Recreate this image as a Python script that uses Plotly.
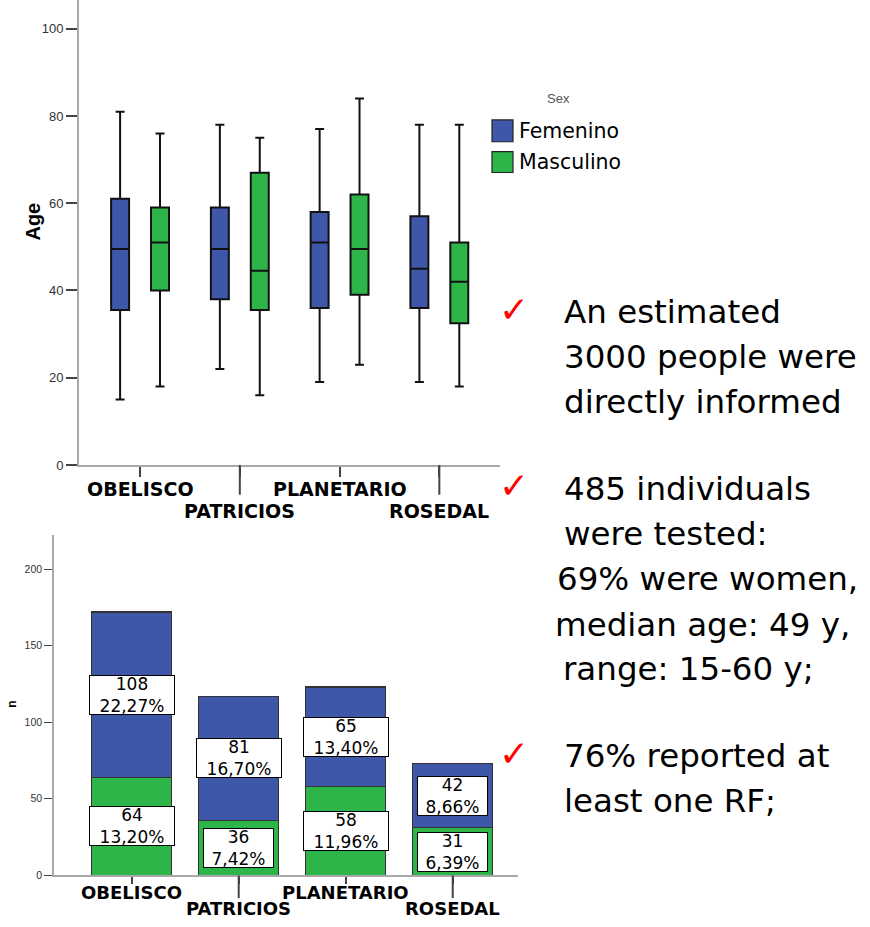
import plotly.graph_objects as go

# ---------------- data ----------------
sites = ["OBELISCO", "PATRICIOS", "PLANETARIO", "ROSEDAL"]

# Age box plot statistics
fem_low = [15, 22, 19, 19]
fem_q1 = [35.5, 38, 36, 36]
fem_med = [49.5, 49.5, 51, 45]
fem_q3 = [61, 59, 58, 57]
fem_high = [81, 78, 77, 78]

mas_low = [18, 16, 23, 18]
mas_q1 = [40, 35.5, 39, 32.5]
mas_med = [51, 44.5, 49.5, 42]
mas_q3 = [59, 67, 62, 51]
mas_high = [76, 75, 84, 78]

# Counts per site
fem_n = [108, 81, 65, 42]
mas_n = [64, 36, 58, 31]
fem_pct = ["22,27%", "16,70%", "13,40%", "8,66%"]
mas_pct = ["13,20%", "7,42%", "11,96%", "6,39%"]

age_ticks = [0, 20, 40, 60, 80, 100]
n_ticks = [0, 50, 100, 150, 200]

bullets = [
    ["An estimated", "3000 people were", "directly informed"],
    ["485 individuals", "were tested:", "69% were women,", "median age: 49 y,", "range: 15-60 y;"],
    ["76% reported at", "least one RF;"],
]

# ---------------- styles ----------------
W, H = 870, 927
BLUE = "#3F57A8"
GREEN = "#2EB54A"
AXIS = "#a8a8a8"
TICK = "#444444"
LABEL_FONT = "DejaVu Sans"
TEXT_FONT = "DejaVu Sans"


def px(x):
    return x / W


def py(y):
    return 1 - y / H


fig = go.Figure()

box_common = dict(boxpoints=False, whiskerwidth=0.5, line=dict(color="#111111", width=2),
                  xaxis="x", yaxis="y", showlegend=False, hoverinfo="skip")
fig.add_trace(go.Box(x=sites, lowerfence=fem_low, q1=fem_q1, median=fem_med, q3=fem_q3,
                     upperfence=fem_high, name="Femenino", fillcolor=BLUE, **box_common))
fig.add_trace(go.Box(x=sites, lowerfence=mas_low, q1=mas_q1, median=mas_med, q3=mas_q3,
                     upperfence=mas_high, name="Masculino", fillcolor=GREEN, **box_common))

bar_common = dict(xaxis="x2", yaxis="y2", width=0.745, showlegend=False, hoverinfo="skip")
fig.add_trace(go.Bar(x=sites, y=mas_n, name="Masculino", marker=dict(color=GREEN, line=dict(color="#333", width=1.2)), **bar_common))
fig.add_trace(go.Bar(x=sites, y=fem_n, name="Femenino", marker=dict(color=BLUE, line=dict(color="#333", width=1.2)), **bar_common))

annotations = []
shapes = []

# bar labels
for i, s in enumerate(sites):
    segs = [(mas_n[i] / 2, mas_n[i], mas_pct[i]), (mas_n[i] + fem_n[i] / 2, fem_n[i], fem_pct[i])]
    for yc, n, pct in segs:
        annotations.append(dict(
            x=s, y=yc, xref="x2", yref="y2", text=f"{n}<br>{pct}", showarrow=False,
            xanchor="center", yanchor="middle",
            font=dict(family=LABEL_FONT, size=17, color="black"),
            bgcolor="white", bordercolor="black", borderwidth=1, borderpad=0,
            width=15 * len(pct) - 6, height=38, align="center", valign="middle"))

# category labels (staggered) and long ticks
for i, s in enumerate(sites):
    row2 = i % 2 == 1
    annotations.append(dict(x=s, xref="x", y=py(515 if row2 else 493), yref="paper", text=s,
                            showarrow=False, font=dict(family=LABEL_FONT, size=19, color="black", weight="bold"),
                            xanchor="center", yanchor="middle"))
    annotations.append(dict(x=s, xref="x2", y=py(916 if row2 else 900.5), yref="paper", text=s,
                            showarrow=False, font=dict(family=LABEL_FONT, size=18, color="black", weight="bold"),
                            xanchor="center", yanchor="middle"))
    if row2:
        shapes.append(dict(type="line", xref="x", x0=i, x1=i, yref="paper", y0=py(469), y1=py(499),
                           line=dict(color=TICK, width=2)))
        shapes.append(dict(type="line", xref="x2", x0=i, x1=i, yref="paper", y0=py(883), y1=py(906),
                           line=dict(color=TICK, width=2)))

# axis titles
annotations.append(dict(x=px(33.5), y=py(224), xref="paper", yref="paper", text="Age", textangle=-90,
                        xanchor="center", yanchor="middle", showarrow=False,
                        font=dict(family="Liberation Sans", size=20, color="black", weight="bold")))
annotations.append(dict(x=px(12), y=py(711), xref="paper", yref="paper", text="n", textangle=-90,
                        xanchor="center", yanchor="middle", showarrow=False, borderpad=0,
                        font=dict(family="Liberation Sans", size=12, color="black", weight="bold")))

# custom legend
annotations.append(dict(x=px(558), y=py(99), xref="paper", yref="paper", text="Sex", showarrow=False,
                        xanchor="center", yanchor="middle",
                        font=dict(family="Liberation Sans", size=13, color="#555")))
for (name, col, y0, y1) in [("Femenino", BLUE, 121, 143), ("Masculino", GREEN, 153, 174)]:
    shapes.append(dict(type="rect", xref="paper", yref="paper", x0=px(492), x1=px(513), y0=py(y1), y1=py(y0),
                       fillcolor=col, line=dict(color="#222", width=1.2)))
    annotations.append(dict(x=px(517), y=py((y0 + y1) / 2), xref="paper", yref="paper", text=name,
                            xanchor="left", yanchor="middle", showarrow=False,
                            font=dict(family=TEXT_FONT, size=20.5, color="black")))

# right-hand bullet text
line_y = [[315, 360, 405], [493, 539, 584, 630, 675], [763, 808]]
line_x = [[562, 562, 562], [562, 562, 555, 553, 561], [562, 562]]
for b, lines in enumerate(bullets):
    annotations.append(dict(x=px(514), y=py(line_y[b][0] - 3), xref="paper", yref="paper", text="✓",
                            xanchor="center", yanchor="middle", showarrow=False,
                            font=dict(family="DejaVu Sans", size=36, color="#ff0000")))
    for j, t in enumerate(lines):
        annotations.append(dict(x=px(line_x[b][j]), y=py(line_y[b][j]), xref="paper", yref="paper", text=t,
                                xanchor="left", yanchor="middle", showarrow=False,
                                font=dict(family=TEXT_FONT, size=32.5, color="black")))

axis_common = dict(showline=True, linecolor=AXIS, showgrid=False, zeroline=False, ticks="outside",
                   tickcolor=TICK)

fig.update_layout(
    width=W, height=H, margin=dict(l=0, r=0, t=0, b=0),
    paper_bgcolor="white", plot_bgcolor="white",
    boxmode="group", boxgap=0.2, boxgroupgap=0.55,
    barmode="stack",
    showlegend=False,
    xaxis=dict(domain=[px(79), px(500)], type="category", range=[-0.612, 3.608], showticklabels=False,
               ticklen=10, tickwidth=2, linewidth=2, anchor="y", **axis_common),
    yaxis=dict(domain=[py(469), 1], range=[0, 469 / 4.4], tickvals=age_ticks, ticklen=11, tickwidth=1.5,
               linewidth=2, anchor="x", tickfont=dict(family="Liberation Sans", size=13, color="#333"),
               **axis_common),
    xaxis2=dict(domain=[px(54), px(518)], type="category", range=[-0.726, 3.61], showticklabels=False,
                ticklen=7, tickwidth=2, linewidth=1.5, anchor="y2", **axis_common),
    yaxis2=dict(domain=[py(883), py(540)], range=[0, (883 - 540) / 1.545], tickvals=n_ticks, ticklen=8,
                tickwidth=1.2, linewidth=1.5, anchor="x2",
                tickfont=dict(family="Liberation Sans", size=10.5, color="#333"), **axis_common),
    annotations=annotations,
    shapes=shapes,
)

fig.write_html(
    "out.html",
    config={"displayModeBar": False},
    post_script="document.documentElement.style.margin='0';document.body.style.margin='0';"
                "document.body.style.overflow='hidden';document.documentElement.style.overflow='hidden';",
)
